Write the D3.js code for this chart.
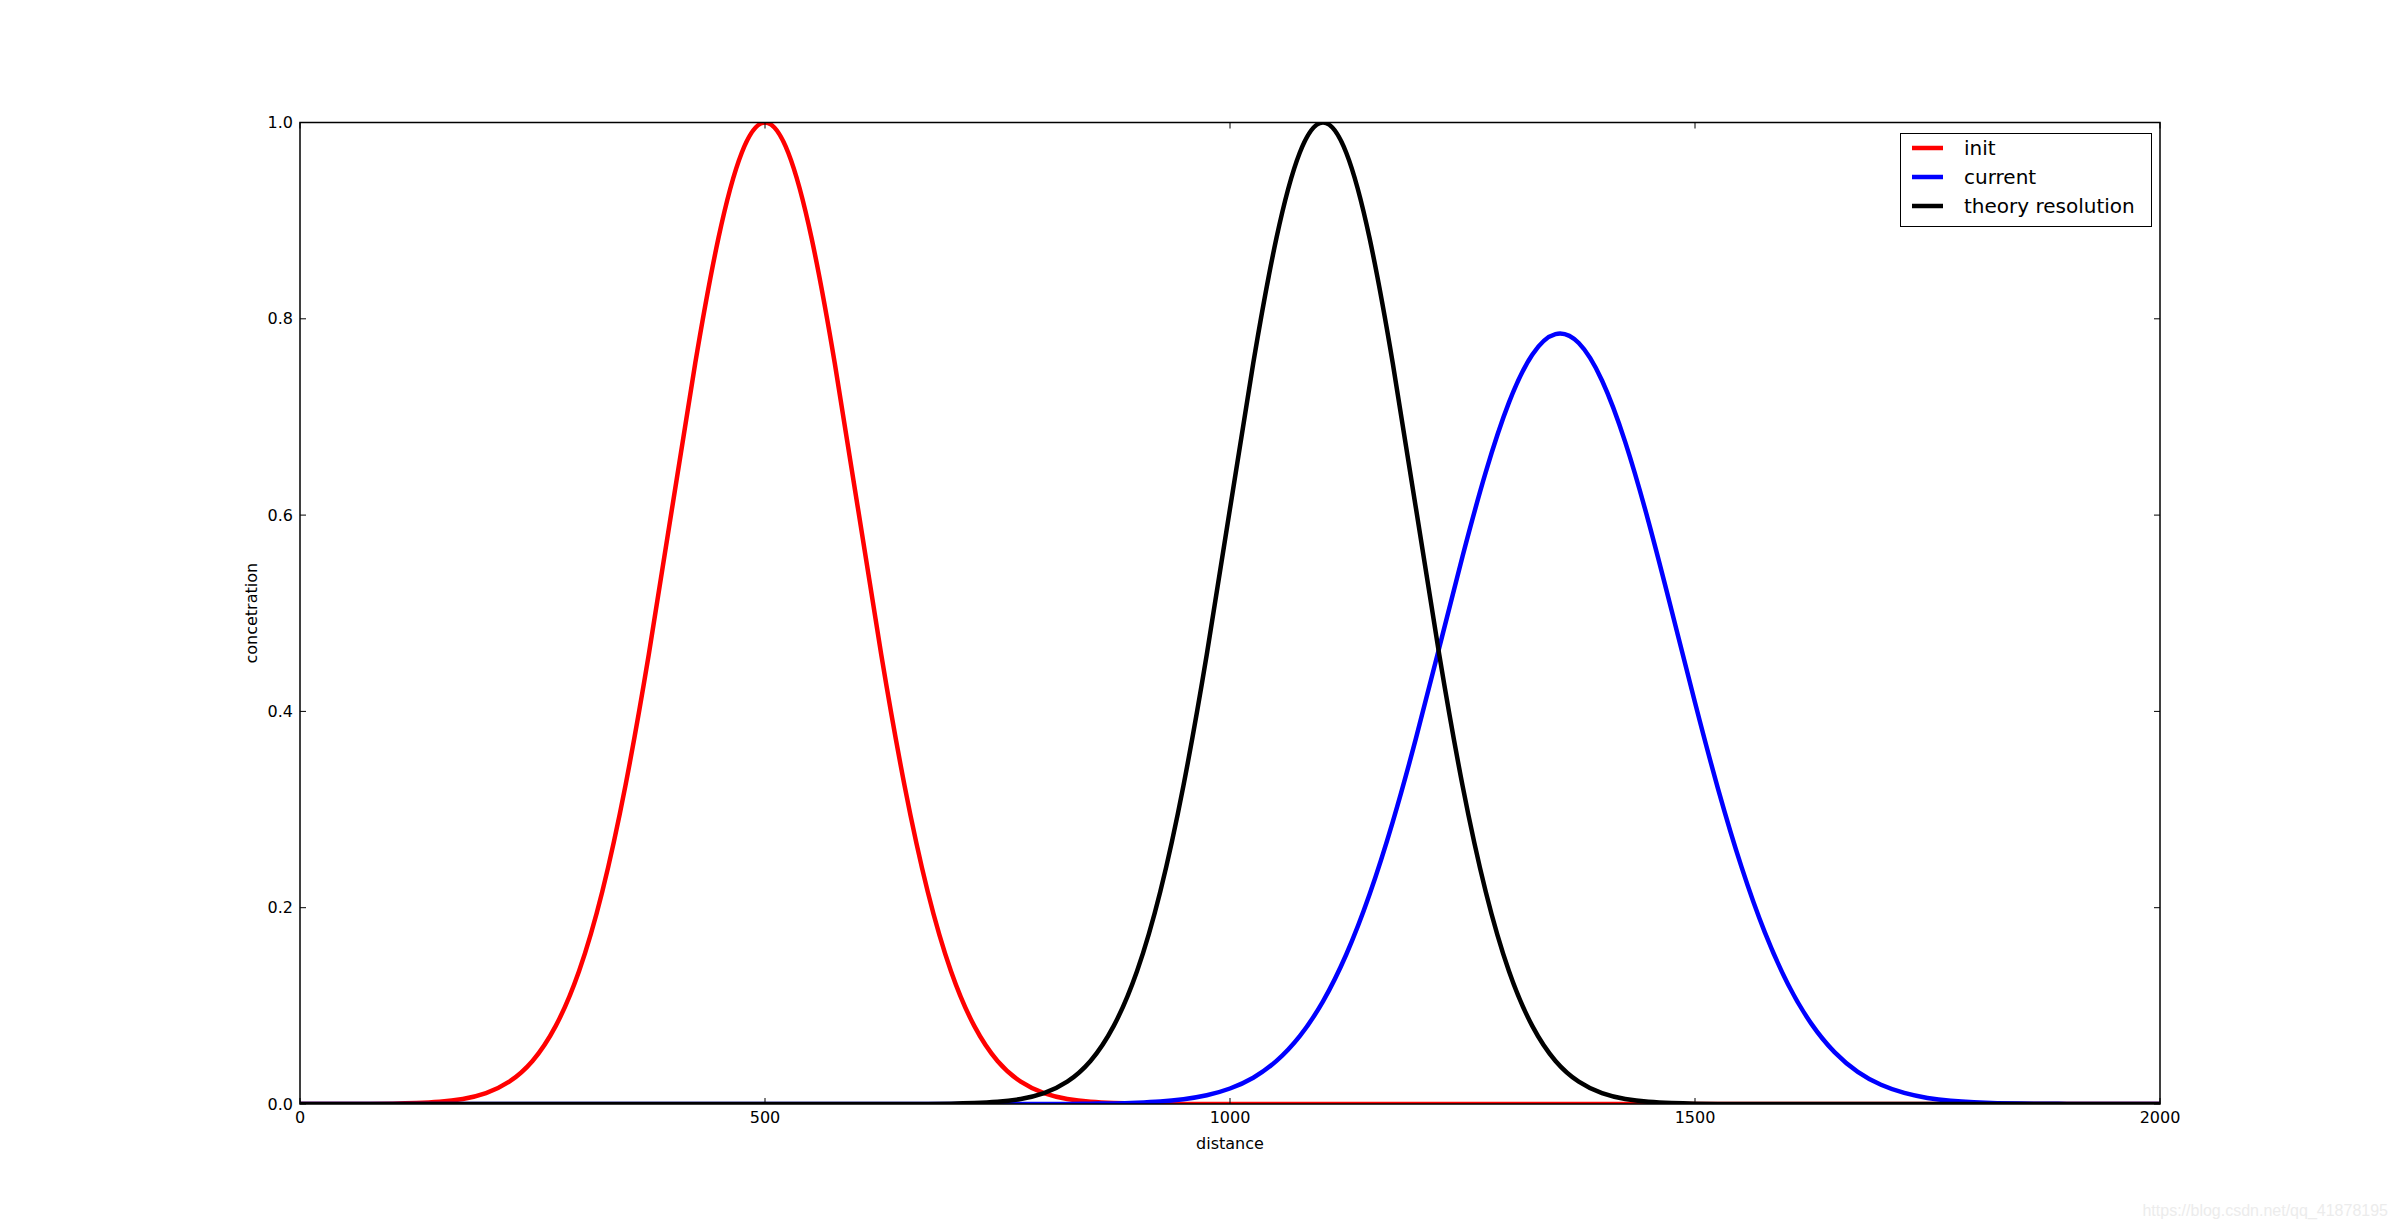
<!DOCTYPE html>
<html>
<head>
<meta charset="utf-8">
<script src="https://cdn.jsdelivr.net/npm/d3@7"></script>
<style>
  html, body { margin: 0; padding: 0; background: #fff; }
  svg { display: block; font-family: "DejaVu Sans", sans-serif; }
</style>
</head>
<body>
<svg id="chart" width="2400" height="1228"></svg>
<script>
// ---- data ----
const distance = [
  0, 25, 50, 75, 100, 125, 150, 175, 200, 225, 250, 275, 300, 325, 350, 375, 400, 425, 450, 475,
  500, 525, 550, 575, 600, 625, 650, 675, 700, 725, 750, 775, 800, 825, 850, 875, 900, 925, 950, 975,
  1000, 1025, 1050, 1075, 1100, 1125, 1150, 1175, 1200, 1225, 1250, 1275, 1300, 1325, 1350, 1375, 1400, 1425, 1450, 1475,
  1500, 1525, 1550, 1575, 1600, 1625, 1650, 1675, 1700, 1725, 1750, 1775, 1800, 1825, 1850, 1875, 1900, 1925, 1950, 1975, 2000
];
const initValues = [
  0, 0, 0, 0.0001, 0.0003, 0.0009, 0.0022, 0.0051, 0.0111, 0.0228, 0.0439, 0.0796, 0.1353, 0.2163, 0.3247, 0.4578, 0.6065, 0.7548, 0.8825, 0.9692,
  1.0, 0.9692, 0.8825, 0.7548, 0.6065, 0.4578, 0.3247, 0.2163, 0.1353, 0.0796, 0.0439, 0.0228, 0.0111, 0.0051, 0.0022, 0.0009, 0.0003, 0.0001, 0, 0,
  0, 0, 0, 0, 0, 0, 0, 0, 0, 0, 0, 0, 0, 0, 0, 0, 0, 0, 0, 0,
  0, 0, 0, 0, 0, 0, 0, 0, 0, 0, 0, 0, 0, 0, 0, 0, 0, 0, 0, 0, 0
];
const currentValues = [
  0, 0, 0, 0, 0, 0, 0, 0, 0, 0, 0, 0, 0, 0, 0, 0, 0, 0, 0, 0,
  0, 0, 0, 0, 0, 0, 0, 0, 0, 0, 0, 0, 0, 0, 0.0003, 0.0006, 0.0013, 0.0025, 0.0049, 0.0089,
  0.0158, 0.0268, 0.0439, 0.0691, 0.1046, 0.1523, 0.2134, 0.2875, 0.3727, 0.4649, 0.5578, 0.6437, 0.7148, 0.7634, 0.7844, 0.7753, 0.7372, 0.6744, 0.5934, 0.5023,
  0.4091, 0.3204, 0.2416, 0.1751, 0.1221, 0.0819, 0.0529, 0.0328, 0.0196, 0.0113, 0.0062, 0.0033, 0.0017, 0.0008, 0.0004, 0.0002, 0.0001, 0, 0, 0, 0
];
const theoryValues = [
  0, 0, 0, 0, 0, 0, 0, 0, 0, 0, 0, 0, 0, 0, 0, 0, 0, 0, 0, 0,
  0, 0, 0, 0, 0, 0, 0, 0.0001, 0.0003, 0.0009, 0.0022, 0.0051, 0.0111, 0.0228, 0.0439, 0.0796, 0.1353, 0.2163, 0.3247, 0.4578,
  0.6065, 0.7548, 0.8825, 0.9692, 1.0, 0.9692, 0.8825, 0.7548, 0.6065, 0.4578, 0.3247, 0.2163, 0.1353, 0.0796, 0.0439, 0.0228, 0.0111, 0.0051, 0.0022, 0.0009,
  0.0003, 0.0001, 0, 0, 0, 0, 0, 0, 0, 0, 0, 0, 0, 0, 0, 0, 0, 0, 0, 0, 0
];
const seriesNames = ["init", "current", "theory resolution"];
const seriesColors = ["#ff0000", "#0000ff", "#000000"];
const xTicks = [0, 500, 1000, 1500, 2000];
const yTicks = [0.0, 0.2, 0.4, 0.6, 0.8, 1.0];
const xLabel = "distance";
const yLabel = "concetration";
const watermark = "https://blog.csdn.net/qq_41878195";

// ---- layout ----
const svg = d3.select("#chart");
const pLeft = 300, pRight = 2160, pTop = 122.5, pBottom = 1104;
const x = d3.scaleLinear().domain([0, 2000]).range([pLeft, pRight]);
const y = d3.scaleLinear().domain([0, 1]).range([pBottom, pTop]);

svg.append("defs").append("clipPath").attr("id", "plotclip")
  .append("rect").attr("x", pLeft).attr("y", pTop).attr("width", pRight - pLeft).attr("height", pBottom - pTop);

const allSeries = [initValues, currentValues, theoryValues];
const line = d3.line()
  .x((d, i) => x(distance[i]))
  .y(d => y(d))
  .curve(d3.curveNatural);

const g = svg.append("g").attr("clip-path", "url(#plotclip)");
allSeries.forEach((vals, k) => {
  g.append("path")
    .datum(vals)
    .attr("fill", "none")
    .attr("stroke", seriesColors[k])
    .attr("stroke-width", 4.5)
    .attr("stroke-linejoin", "round")
    .attr("d", line);
});

// frame
svg.append("rect").attr("x", pLeft).attr("y", pTop).attr("width", pRight - pLeft).attr("height", pBottom - pTop)
  .attr("fill", "none").attr("stroke", "#000").attr("stroke-width", 1.5);

// ticks (inward on all four sides)
const tickLen = 6;
const tg = svg.append("g").attr("stroke", "#000").attr("stroke-width", 1);
xTicks.forEach(t => {
  tg.append("line").attr("x1", x(t)).attr("x2", x(t)).attr("y1", pBottom).attr("y2", pBottom - tickLen);
  tg.append("line").attr("x1", x(t)).attr("x2", x(t)).attr("y1", pTop).attr("y2", pTop + tickLen);
});
yTicks.forEach(t => {
  tg.append("line").attr("x1", pLeft).attr("x2", pLeft + tickLen).attr("y1", y(t)).attr("y2", y(t));
  tg.append("line").attr("x1", pRight).attr("x2", pRight - tickLen).attr("y1", y(t)).attr("y2", y(t));
});

// tick labels
svg.append("g").selectAll("text").data(xTicks).join("text")
  .attr("x", d => x(d)).attr("y", pBottom + 19)
  .attr("text-anchor", "middle").attr("font-size", 16).attr("fill", "#000")
  .text(d => d3.format("d")(d));
svg.append("g").selectAll("text").data(yTicks).join("text")
  .attr("x", pLeft - 7).attr("y", d => y(d)).attr("dy", "0.35em")
  .attr("text-anchor", "end").attr("font-size", 16).attr("fill", "#000")
  .text(d => d3.format(".1f")(d));

// axis labels
svg.append("text").attr("x", (pLeft + pRight) / 2).attr("y", pBottom + 45)
  .attr("text-anchor", "middle").attr("font-size", 16).attr("fill", "#000").text(xLabel);
svg.append("text").attr("transform", `translate(${pLeft - 49},${(pTop + pBottom) / 2}) rotate(-90)`)
  .attr("text-anchor", "middle").attr("dy", "0.35em").attr("font-size", 16).attr("fill", "#000").text(yLabel);

// legend
const lg = svg.append("g");
lg.append("rect").attr("x", 1900.5).attr("y", 133.5).attr("width", 251).attr("height", 93)
  .attr("fill", "#fff").attr("stroke", "#000").attr("stroke-width", 1);
seriesNames.forEach((name, k) => {
  const cy = 148 + k * 29;
  lg.append("line").attr("x1", 1912).attr("x2", 1943).attr("y1", cy).attr("y2", cy)
    .attr("stroke", seriesColors[k]).attr("stroke-width", 4.5);
  lg.append("text").attr("x", 1964).attr("y", cy).attr("dy", "0.35em")
    .attr("font-size", 20).attr("fill", "#000").text(name);
});

// watermark
svg.append("text").attr("x", 2388).attr("y", 1216).attr("text-anchor", "end")
  .attr("font-family", "Liberation Sans, Arial, sans-serif").attr("font-size", 16)
  .attr("fill", "#ececec").text(watermark);
</script>
</body>
</html>
